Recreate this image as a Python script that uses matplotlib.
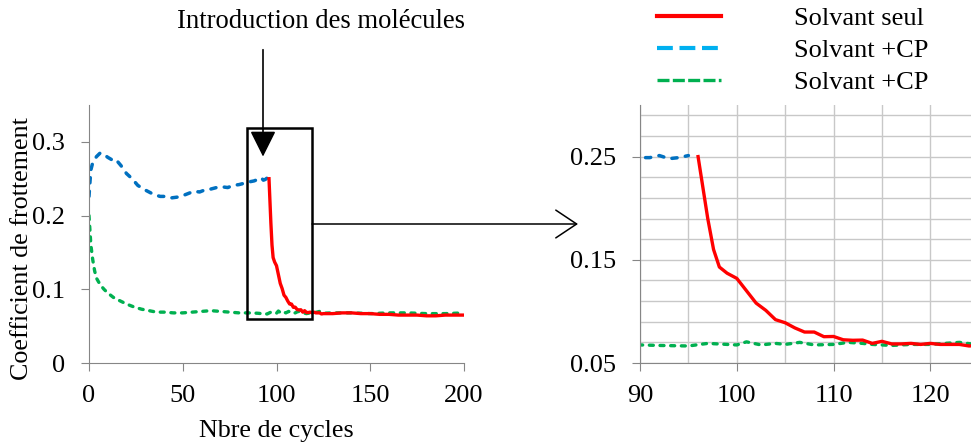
import matplotlib
matplotlib.use('Agg')
import matplotlib.pyplot as plt
from matplotlib.lines import Line2D
from matplotlib.patches import Rectangle

plt.rcParams['font.family'] = ['Liberation Serif', 'DejaVu Serif']
plt.rcParams['font.size'] = 19

# blue dashed series (Solvant +CP)
blue_x = [0, 0.5, 1, 2, 4, 6, 8, 10, 12, 14, 17, 20, 23, 26, 29, 32, 35, 38, 41, 44,
          47, 50, 53, 56, 59, 62, 65, 68, 71, 74, 77, 80, 83, 86, 88, 90, 91, 92, 93, 94, 95]
blue_y = [0.226, 0.245, 0.262, 0.272, 0.280, 0.285, 0.283, 0.279, 0.276, 0.277, 0.268,
          0.257, 0.250, 0.241, 0.236, 0.232, 0.228, 0.226, 0.226, 0.224, 0.225, 0.227,
          0.230, 0.233, 0.232, 0.235, 0.236, 0.238, 0.239, 0.238, 0.241, 0.242, 0.244,
          0.246, 0.247, 0.249, 0.249, 0.251, 0.248, 0.249, 0.251]

# green dashed series (Solvant +CP)
green_x = [0, 0.5, 1, 2, 3, 4, 6, 8, 10, 13, 16, 20, 24, 28, 32, 36, 40, 45, 50, 55, 60,
           65, 70, 75, 80, 85, 90, 92, 95, 97, 100, 101, 102.5, 104, 105, 106.5, 108, 110,
           111.5, 113, 114, 116, 118, 120, 123, 125, 130, 140, 150, 160, 170, 180, 190, 200]
green_y = [0.200, 0.180, 0.160, 0.140, 0.125, 0.115, 0.106, 0.100, 0.095, 0.089, 0.085,
           0.080, 0.076, 0.073, 0.071, 0.069, 0.069, 0.068, 0.068, 0.069, 0.070, 0.071,
           0.070, 0.069, 0.068, 0.068, 0.0675, 0.067, 0.0665, 0.069, 0.0675, 0.0705,
           0.0675, 0.069, 0.068, 0.070, 0.0675, 0.068, 0.070, 0.069, 0.068, 0.067, 0.068,
           0.068, 0.070, 0.0675, 0.068, 0.068, 0.067, 0.068, 0.068, 0.067, 0.067, 0.068]

# red solid series (Solvant seul)
red_x = [96, 96.5, 97, 97.6, 98.2, 99, 100, 101, 102, 103, 104, 105, 106, 107, 108, 109,
         110, 111, 112, 113, 114, 115, 116, 117, 118, 119, 120, 121, 122, 123, 124, 125,
         130, 135, 140, 145, 150, 155, 160, 165, 170, 175, 180, 185, 190, 195, 200]
red_y = [0.250, 0.220, 0.190, 0.160, 0.143, 0.137, 0.132, 0.120, 0.108, 0.101, 0.092,
         0.089, 0.084, 0.080, 0.080, 0.0755, 0.0757, 0.0725, 0.072, 0.0722, 0.069, 0.071,
         0.0685, 0.0685, 0.069, 0.068, 0.069, 0.068, 0.068, 0.068, 0.0665, 0.067, 0.067,
         0.068, 0.068, 0.067, 0.067, 0.066, 0.066, 0.065, 0.065, 0.065, 0.064, 0.064,
         0.065, 0.065, 0.065]

labels = ['Solvant seul', 'Solvant +CP', 'Solvant +CP']

RED = '#ff0000'
BLUE = '#0070c0'
GREEN = '#00b050'
GRAY = '#868686'

fig = plt.figure(figsize=(9.71, 4.48), dpi=100)
W, H = 971, 448

def px_axes(x0, x1, y_top, y_bot):
    return fig.add_axes([x0 / W, (H - y_bot) / H, (x1 - x0) / W, (y_bot - y_top) / H])

ax1 = px_axes(89, 464, 105, 363)
ax2 = px_axes(640, 971, 105, 363)

for ax in (ax1, ax2):
    ax.plot(blue_x, blue_y, color=BLUE, lw=2.5, dashes=(1.5, 2.4), dash_capstyle='round')
    ax.plot(green_x, green_y, color=GREEN, lw=2.4, dashes=(1.2, 2.0), dash_capstyle='round')
    ax.plot(red_x, red_y, color=RED, lw=2.4)
    for s in ('top', 'right'):
        ax.spines[s].set_visible(False)
    for s in ('left', 'bottom'):
        ax.spines[s].set_color(GRAY)
    ax.tick_params(colors=GRAY, labelcolor='black', length=5.5, direction='out')
    ax.tick_params(axis='x', pad=10.5)
    ax.tick_params(axis='y', pad=12)

ax1.set_xlim(0, 200)
ax1.set_ylim(0, 0.35)
ax1.set_xticks([0, 50, 100, 150, 200])
ax1.set_yticks([0, 0.1, 0.2, 0.3])
ax1.set_yticklabels(['0', '0.1', '0.2', '0.3'])
ax1.set_xlabel('Nbre de cycles', fontsize=18.7)
ax1.set_ylabel('Coefficient de frottement', fontsize=18.7)
ax1.xaxis.set_label_coords(0.5, -0.22)
ax1.yaxis.set_label_coords(-0.15, 0.445)

ax2.set_xlim(90, 124.2)
ax2.set_ylim(0.05, 0.30)
ax2.set_xticks([90, 100, 110, 120])
ax2.set_xticks([95, 105, 115], minor=True)
ax2.set_yticks([0.05, 0.15, 0.25])
ax2.set_yticks([0.07, 0.09, 0.11, 0.13, 0.17, 0.19, 0.21, 0.23, 0.27, 0.29], minor=True)
ax2.set_yticklabels(['0.05', '0.15', '0.25'])
ax2.tick_params(which='minor', length=0)
ax2.grid(True, which='both', color='#c8c8c8', lw=1)
ax2.set_axisbelow(True)

# zoom box and arrows
ax1.add_patch(Rectangle((84.3, 0.06), 34.6, 0.259, fill=False, ec='black', lw=1.8,
                        clip_on=False, zorder=5))
ax1.annotate('', xy=(92.8, 0.28), xytext=(92.8, 0.425), annotation_clip=False,
             arrowprops=dict(arrowstyle='-|>,head_length=0.8,head_width=0.4',
                             mutation_scale=20, color='black', lw=1.2,
                             shrinkA=0, shrinkB=0))
fig.text(321 / W, (H - 22) / H, 'Introduction des molécules', ha='center', va='center',
         fontsize=19.2)
ax1.annotate('', xy=(578 / W, (H - 224) / H), xycoords='figure fraction',
             xytext=(312 / W, (H - 224) / H), textcoords='figure fraction',
             arrowprops=dict(arrowstyle='->,head_length=0.6,head_width=0.4',
                             mutation_scale=25, color='black', lw=1.1,
                             shrinkA=0, shrinkB=0))

handles = [Line2D([], [], color=RED, lw=3),
           Line2D([], [], color='#00b0f0', lw=3, dashes=(3.8, 1.6)),
           Line2D([], [], color=GREEN, lw=2.4, dashes=(3.6, 1.0))]
fig.legend(handles, labels, loc='upper left', bbox_to_anchor=(654 / W, (H - 4) / H),
           frameon=False, handlelength=2.45, handletextpad=2.75, labelspacing=0.33,
           borderpad=0.1, borderaxespad=0, fontsize=19)

fig.savefig('out.png', dpi=100)
